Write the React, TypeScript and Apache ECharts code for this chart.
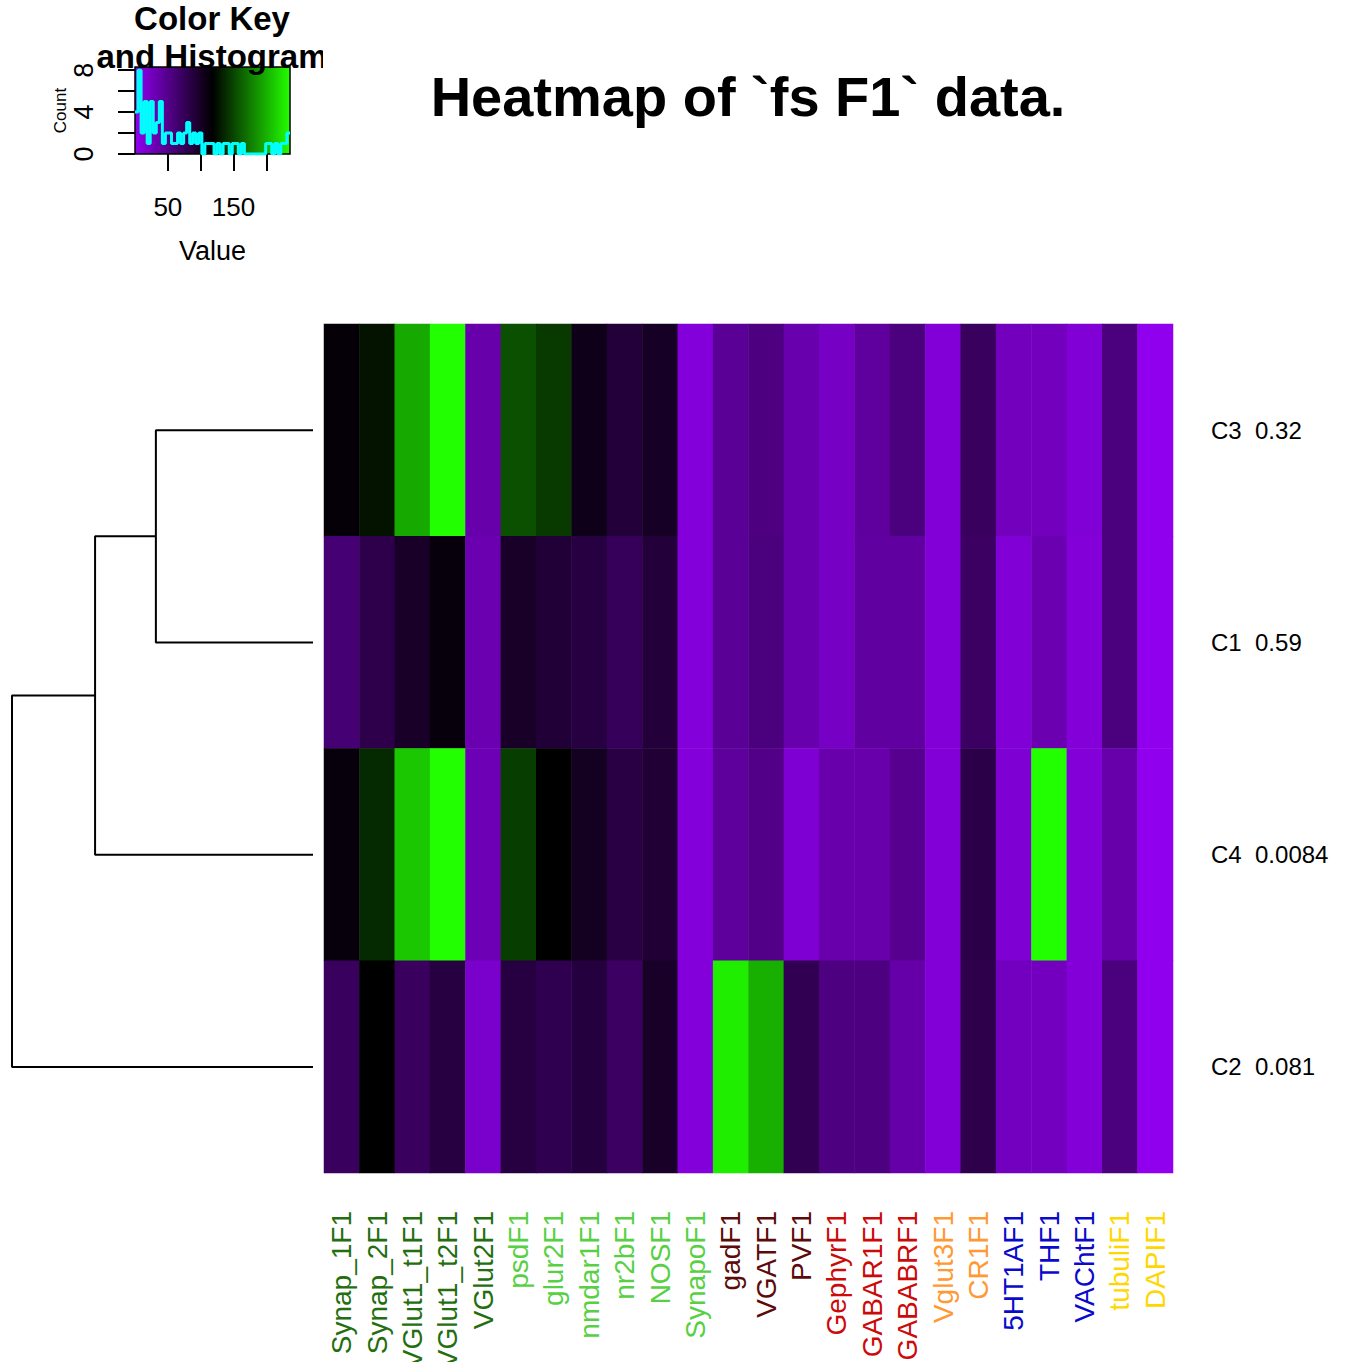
import React, { useEffect, useRef } from "react";
import * as echarts from "echarts";

// ---------- data ----------
const columns = [
  "Synap_1F1", "Synap_2F1", "VGlut1_t1F1", "VGlut1_t2F1", "VGlut2F1", "psdF1",
  "glur2F1", "nmdar1F1", "nr2bF1", "NOSF1", "SynapoF1", "gadF1", "VGATF1", "PVF1",
  "GephyrF1", "GABAR1F1", "GABABRF1", "Vglut3F1", "CR1F1", "5HT1AF1", "THF1",
  "VAChtF1", "tubuliF1", "DAPIF1",
];
const labelColors = [
  "#236E0E", "#236E0E", "#236E0E", "#236E0E", "#236E0E",
  "#57D043", "#57D043", "#57D043", "#57D043", "#57D043", "#57D043",
  "#5C0A0A", "#5C0A0A", "#5C0A0A",
  "#CC0A0A", "#CC0A0A", "#CC0A0A",
  "#FF9933", "#FF9933",
  "#0A0ACC", "#0A0ACC", "#0A0ACC",
  "#FFD700", "#FFD700",
];
const rowNames = ["C3", "C1", "C4", "C2"];
const rowScores = ["0.32", "0.59", "0.0084", "0.081"];
const valuesC3 = [114, 127, 196, 236, 35, 155, 145, 106, 89, 100, 11, 45, 56, 33, 22, 41, 57, 13, 72, 26, 26, 14, 57, 2];
const valuesC1 = [62, 81, 98, 112, 32, 98, 91, 87, 74, 89, 11, 45, 57, 33, 22, 40, 40, 13, 70, 14, 32, 12, 57, 2];
const valuesC4 = [112, 137, 210, 236, 30, 146, 118, 102, 85, 92, 11, 42, 52, 15, 34, 34, 48, 13, 83, 15, 236, 12, 35, 2];
const valuesC2 = [72, 118, 72, 87, 19, 87, 79, 88, 70, 98, 11, 228, 199, 78, 56, 56, 36, 13, 81, 25, 25, 12, 57, 2];
const matrixRows = [valuesC3, valuesC1, valuesC4, valuesC2];

const keyMin = 0;
const keyMax = 236;
const keyColors = ["#9200F2", "#000000", "#22FF00"];
const keyTicks = [50, 100, 150, 200];
const keyTickLabels = [50, 150];
const countTicks = [0, 2, 4, 6, 8];
const countTickLabels = [0, 4, 8];
const histCounts = [
  4, 8, 2, 5, 1, 5, 2, 3, 5, 1,
  2, 2, 1, 1, 2, 1, 2, 3, 1, 2,
  1, 2, 0, 1, 1, 1, 0, 1, 0, 1,
  1, 0, 1, 1, 0, 1, 0, 0, 0, 0,
  0, 0, 0, 1, 1, 0, 1, 0, 1, 1,
  2,
];

// dendrogram merges (height relative to root)
const dendroMerges = [
  { name: "m1", left: "C3", right: "C1", height: 0.522 },
  { name: "m2", left: "m1", right: "C4", height: 0.724 },
  { name: "m3", left: "m2", right: "C2", height: 1.0 },
];

const FONT = "'Liberation Sans', Arial, Helvetica, sans-serif";

export default function App() {
  const ref = useRef<HTMLDivElement>(null);

  useEffect(() => {
    document.body.style.margin = "0";
    document.body.style.overflow = "hidden";
    if (!ref.current) return;
    const chart = echarts.init(ref.current, undefined, { renderer: "svg" });

    const heatData: number[][] = [];
    matrixRows.forEach((row, r) => {
      row.forEach((v, c) => heatData.push([c, r, v]));
    });

    const binWidth = (keyMax - keyMin) / histCounts.length;
    const histData: number[][] = histCounts.map((c, i) => [keyMin + i * binWidth, c]);
    histData.push([keyMax, histCounts[histCounts.length - 1]]);

    const pos: Record<string, { y: number; h: number }> = {};
    rowNames.forEach((n, i) => (pos[n] = { y: i + 0.5, h: 0 }));
    const dendroSeries = dendroMerges.map((m) => {
      const a = pos[m.left];
      const b = pos[m.right];
      pos[m.name] = { y: (a.y + b.y) / 2, h: m.height };
      return {
        type: "line",
        xAxisIndex: 2,
        yAxisIndex: 2,
        symbol: "none",
        silent: true,
        lineStyle: { color: "#000000", width: 2 },
        data: [
          [a.h, a.y],
          [m.height, a.y],
          [m.height, b.y],
          [b.h, b.y],
        ],
      };
    });

    const option: any = {
      animation: false,
      backgroundColor: "#ffffff",
      grid: [
        { left: 324, top: 324, width: 849, height: 849, outerBoundsMode: "none", containLabel: false },
        {
          left: 135, top: 67, width: 155, height: 87, show: true,
          outerBoundsMode: "none", containLabel: false,
          backgroundColor: new echarts.graphic.LinearGradient(0, 0, 1, 0, [
            { offset: 0, color: keyColors[0] },
            { offset: 0.5, color: keyColors[1] },
            { offset: 1, color: keyColors[2] },
          ]),
          borderColor: "#000000", borderWidth: 1.5,
        },
        { left: 12, top: 324, width: 301, height: 849, outerBoundsMode: "none", containLabel: false },
      ],
      xAxis: [
        {
          type: "category", gridIndex: 0, data: columns,
          axisLine: { show: false }, axisTick: { show: false }, splitLine: { show: false },
          axisLabel: {
            interval: 0, rotate: 90, margin: 38, fontSize: 28, fontFamily: FONT,
            color: (v: string) => labelColors[columns.indexOf(v)],
          },
        },
        {
          type: "value", gridIndex: 1, min: keyMin, max: keyMax,
          axisLine: { show: false }, splitLine: { show: false },
          axisTick: { show: true, customValues: keyTicks, length: 17, lineStyle: { color: "#000", width: 2 } },
          axisLabel: { customValues: keyTickLabels, margin: 40, fontSize: 26, color: "#000", fontFamily: FONT },
          name: "Value", nameLocation: "middle", nameGap: 83,
          nameTextStyle: { fontSize: 27, color: "#000", fontFamily: FONT },
        },
        { type: "value", gridIndex: 2, min: 0, max: 1, inverse: true, show: false },
      ],
      yAxis: [
        {
          type: "category", gridIndex: 0, data: rowNames, inverse: true, position: "right",
          axisLine: { show: false }, axisTick: { show: false }, splitLine: { show: false },
          axisLabel: {
            margin: 38, fontSize: 24, color: "#000", fontFamily: FONT,
            formatter: (v: string) => `${v}  ${rowScores[rowNames.indexOf(v)]}`,
          },
        },
        {
          type: "value", gridIndex: 1, min: 0, max: 8.3,
          axisLine: { show: false }, splitLine: { show: false },
          axisTick: { show: true, customValues: countTicks, length: 17, lineStyle: { color: "#000", width: 2 } },
          axisLabel: { customValues: countTickLabels, rotate: 90, margin: 38, fontSize: 27, color: "#000", fontFamily: FONT },
          name: "Count", nameLocation: "middle", nameRotate: 90, nameGap: 64,
          nameTextStyle: { fontSize: 17, color: "#000", fontFamily: FONT },
        },
        { type: "value", gridIndex: 2, min: 0, max: 4, inverse: true, show: false },
      ],
      visualMap: {
        type: "continuous", show: false, seriesIndex: 0, min: keyMin, max: keyMax,
        inRange: { color: keyColors },
      },
      series: [
        {
          type: "heatmap", xAxisIndex: 0, yAxisIndex: 0, data: heatData,
          itemStyle: { borderWidth: 0 }, silent: true,
        },
        {
          type: "line", xAxisIndex: 1, yAxisIndex: 1, step: "end", symbol: "none",
          silent: true, z: 5,
          lineStyle: { color: "#00FFFF", width: 3 },
          data: histData,
        },
        ...dendroSeries,
      ],
      graphic: [
        {
          type: "text", x: 748, y: 96, z: 100,
          style: {
            text: "Heatmap of `fs F1` data.", fill: "#000", font: `bold 56px ${FONT}`,
            textAlign: "center", textVerticalAlign: "middle",
          },
        },
        {
          type: "text", x: 212, y: 18, z: 100,
          style: {
            text: "Color Key", fill: "#000", font: `bold 33px ${FONT}`,
            textAlign: "center", textVerticalAlign: "middle",
          },
        },
        {
          type: "text", x: 212, y: 56, z: 100,
          style: {
            text: "and Histogram", fill: "#000", font: `bold 33px ${FONT}`,
            textAlign: "center", textVerticalAlign: "middle",
          },
        },
        {
          type: "rect", z: 101, shape: { x: 323, y: 30, width: 60, height: 45 },
          style: { fill: "#ffffff" },
        },
      ],
    };

    chart.setOption(option);
    return () => chart.dispose();
  }, []);

  return <div ref={ref} style={{ width: 1362, height: 1362 }} />;
}
